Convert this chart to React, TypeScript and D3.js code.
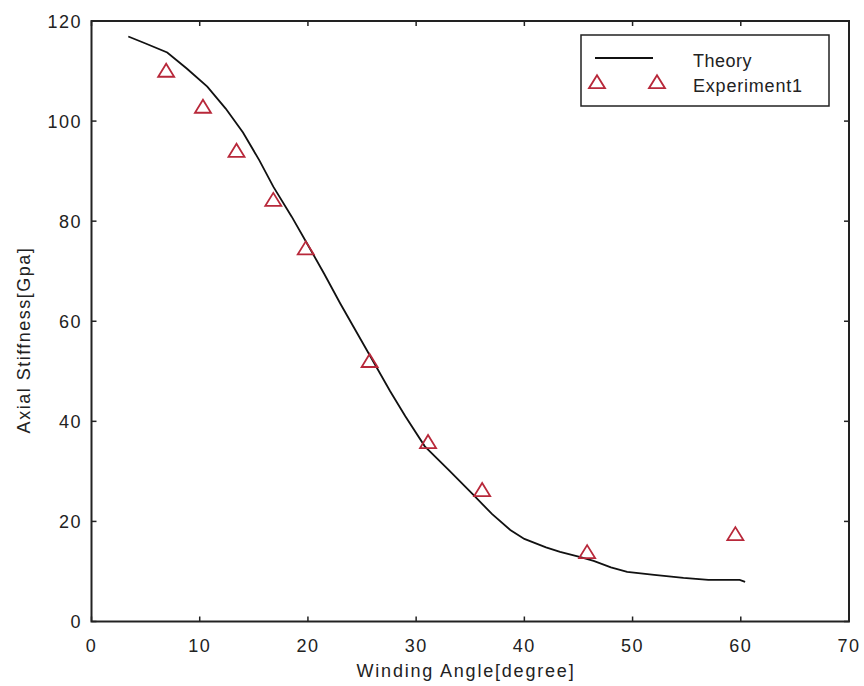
import React from "react";
import * as d3 from "d3";

const theoryX = [3.4, 5, 7, 8.8, 10.7, 12.4, 14, 15.5, 16.8, 18.5, 19.8, 21.5, 23, 25.5, 27.6, 29, 30.8, 33, 35.2, 37, 38.7, 40, 42, 43.3, 45.1, 46.4, 48, 49.5, 52, 54.7, 57, 59.9, 60.4];
const theoryY = [116.9, 115.5, 113.7, 110.5, 106.9, 102.5, 97.7, 92.2, 86.9, 80.9, 76, 69.5, 63.5, 54, 46, 41, 35, 30.3, 25.5, 21.5, 18.3, 16.5, 14.8, 13.9, 12.9, 12.1, 10.8, 9.9, 9.3, 8.7, 8.3, 8.3, 7.9];
const expX = [6.9, 10.3, 13.4, 16.8, 19.8, 25.7, 31.1, 36.1, 45.8, 59.5];
const expY = [109.9, 102.7, 93.9, 84.1, 74.4, 51.9, 35.7, 26.1, 13.7, 17.3];
const xTicks = [0, 10, 20, 30, 40, 50, 60, 70];
const yTicks = [0, 20, 40, 60, 80, 100, 120];

const W = 864, H = 686;
const L = 91.5, R = 849, T = 21, B = 621.5;
const FONT = "'Liberation Sans', Arial, sans-serif";
const RED = "#b8283a";

function tri(cx: number, cy: number, w = 16, h = 13) {
  return `M${cx},${cy - h * 0.6}L${cx + w / 2},${cy + h * 0.4}L${cx - w / 2},${cy + h * 0.4}Z`;
}

export default function App() {
  const x = d3.scaleLinear().domain([0, 70]).range([L, R]);
  const y = d3.scaleLinear().domain([0, 120]).range([B, T]);
  const line = d3.line<number>().x((_, i) => x(theoryX[i])).y((d) => y(d));
  const tl = 5;
  return (
    <svg width={W} height={H} style={{ position: "absolute", left: 0, top: 0, background: "#fff" }}>
      <rect x={0} y={0} width={W} height={H} fill="#fff" />
      {/* ticks */}
      {xTicks.map((t) => (
        <g key={"x" + t}>
          <line x1={x(t)} x2={x(t)} y1={B} y2={B - tl} stroke="#222" strokeWidth={1.5} />
          <line x1={x(t)} x2={x(t)} y1={T} y2={T + tl} stroke="#222" strokeWidth={1.5} />
          <text x={x(t)} y={652} textAnchor="middle" fontFamily={FONT} fontSize={18} letterSpacing={1.5} fill="#222">{t}</text>
        </g>
      ))}
      {yTicks.map((t) => (
        <g key={"y" + t}>
          <line x1={L} x2={L + tl} y1={y(t)} y2={y(t)} stroke="#222" strokeWidth={1.5} />
          <line x1={R} x2={R - tl} y1={y(t)} y2={y(t)} stroke="#222" strokeWidth={1.5} />
          <text x={82} y={y(t) + 6.5} textAnchor="end" fontFamily={FONT} fontSize={18} letterSpacing={1.5} fill="#222">{t}</text>
        </g>
      ))}
      <rect x={L} y={T} width={R - L} height={B - T} fill="none" stroke="#222" strokeWidth={2} />
      {/* theory */}
      <path d={line(theoryY) || ""} fill="none" stroke="#111" strokeWidth={1.8} />
      {/* experiment */}
      {expY.map((v, i) => (
        <path key={i} d={tri(x(expX[i]), y(v))} fill="none" stroke={RED} strokeWidth={1.8} />
      ))}
      {/* legend */}
      <rect x={581} y={35} width={248} height={71} fill="#fff" stroke="#222" strokeWidth={1.5} />
      <line x1={595} x2={653} y1={58} y2={58} stroke="#111" strokeWidth={1.8} />
      <text x={693} y={67} fontFamily={FONT} fontSize={18} letterSpacing={0.5} fill="#222">Theory</text>
      <path d={tri(597, 83)} fill="none" stroke={RED} strokeWidth={1.8} />
      <path d={tri(657, 83)} fill="none" stroke={RED} strokeWidth={1.8} />
      <text x={693} y={92} fontFamily={FONT} fontSize={18} letterSpacing={0.8} fill="#222">Experiment1</text>
      {/* axis labels */}
      <text x={466} y={677} textAnchor="middle" fontFamily={FONT} fontSize={18} letterSpacing={1.8} fill="#222">Winding Angle[degree]</text>
      <text transform="translate(30,340) rotate(-90)" textAnchor="middle" fontFamily={FONT} fontSize={18} letterSpacing={1.5} fill="#222">Axial Stiffness[Gpa]</text>
    </svg>
  );
}
